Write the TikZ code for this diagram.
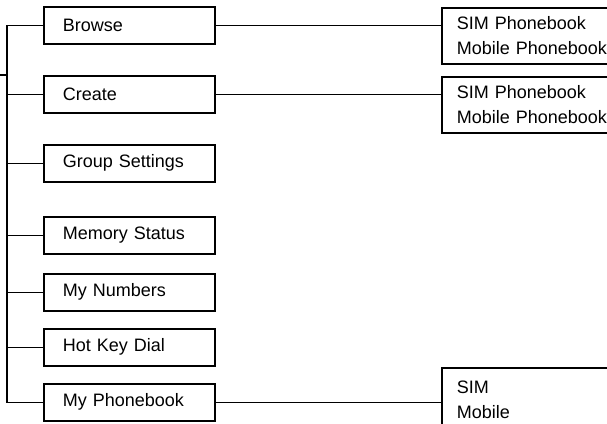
\documentclass[tikz,border=0pt]{standalone}
\usepackage{fontspec}
\setmainfont{Liberation Sans}
\begin{document}
\begin{tikzpicture}[x=1pt,y=-1pt,
  every node/.style={font=\fontsize{18}{25}\selectfont},
  menubox/.style={draw, line width=1.6pt, anchor=north west, minimum width=171pt, minimum height=37pt, inner xsep=19pt, text width=133pt, align=left},
  subbox/.style={draw, line width=1.6pt, anchor=north west, minimum width=230pt, inner xsep=11pt, text width=200pt, align=left},
  link/.style={line width=1.6pt}]
\useasboundingbox (0,0) rectangle (607,423);
\clip (0,0) rectangle (607,423);
\node[menubox] (browse) at (43,6) {Browse};
\node[menubox] (create) at (43,75) {Create};
\node[menubox] (group) at (43,144) {Group Settings};
\node[menubox] (memory) at (43,216) {Memory Status};
\node[menubox] (numbers) at (43,273) {My Numbers};
\node[menubox] (hotkey) at (43,328) {Hot Key Dial};
\node[menubox] (phone) at (43,383) {My Phonebook};
\node[subbox, minimum height=56pt] (sub1) at (441,7) {SIM Phonebook\\Mobile Phonebook};
\node[subbox, minimum height=56pt] (sub2) at (441,76) {SIM Phonebook\\Mobile Phonebook};
\node[subbox, minimum height=64pt] (sub3) at (441,367) {SIM\\Mobile};
\coordinate (trunk) at (7,0);
\coordinate (stubend) at (0,75);
\draw[link] (browse.west) -- (browse.west -| trunk) -- (phone.west -| trunk) -- (phone.west);
\foreach \n in {create,group,memory,numbers,hotkey}
  \draw[link] (\n.west) -- (\n.west -| trunk);
\draw[link] (stubend) -- (stubend -| trunk);
\draw[link] (browse.east) -- (browse.east -| sub1.west);
\draw[link] (create.east) -- (create.east -| sub2.west);
\draw[link] (phone.east) -- (phone.east -| sub3.west);
\end{tikzpicture}
\end{document}
